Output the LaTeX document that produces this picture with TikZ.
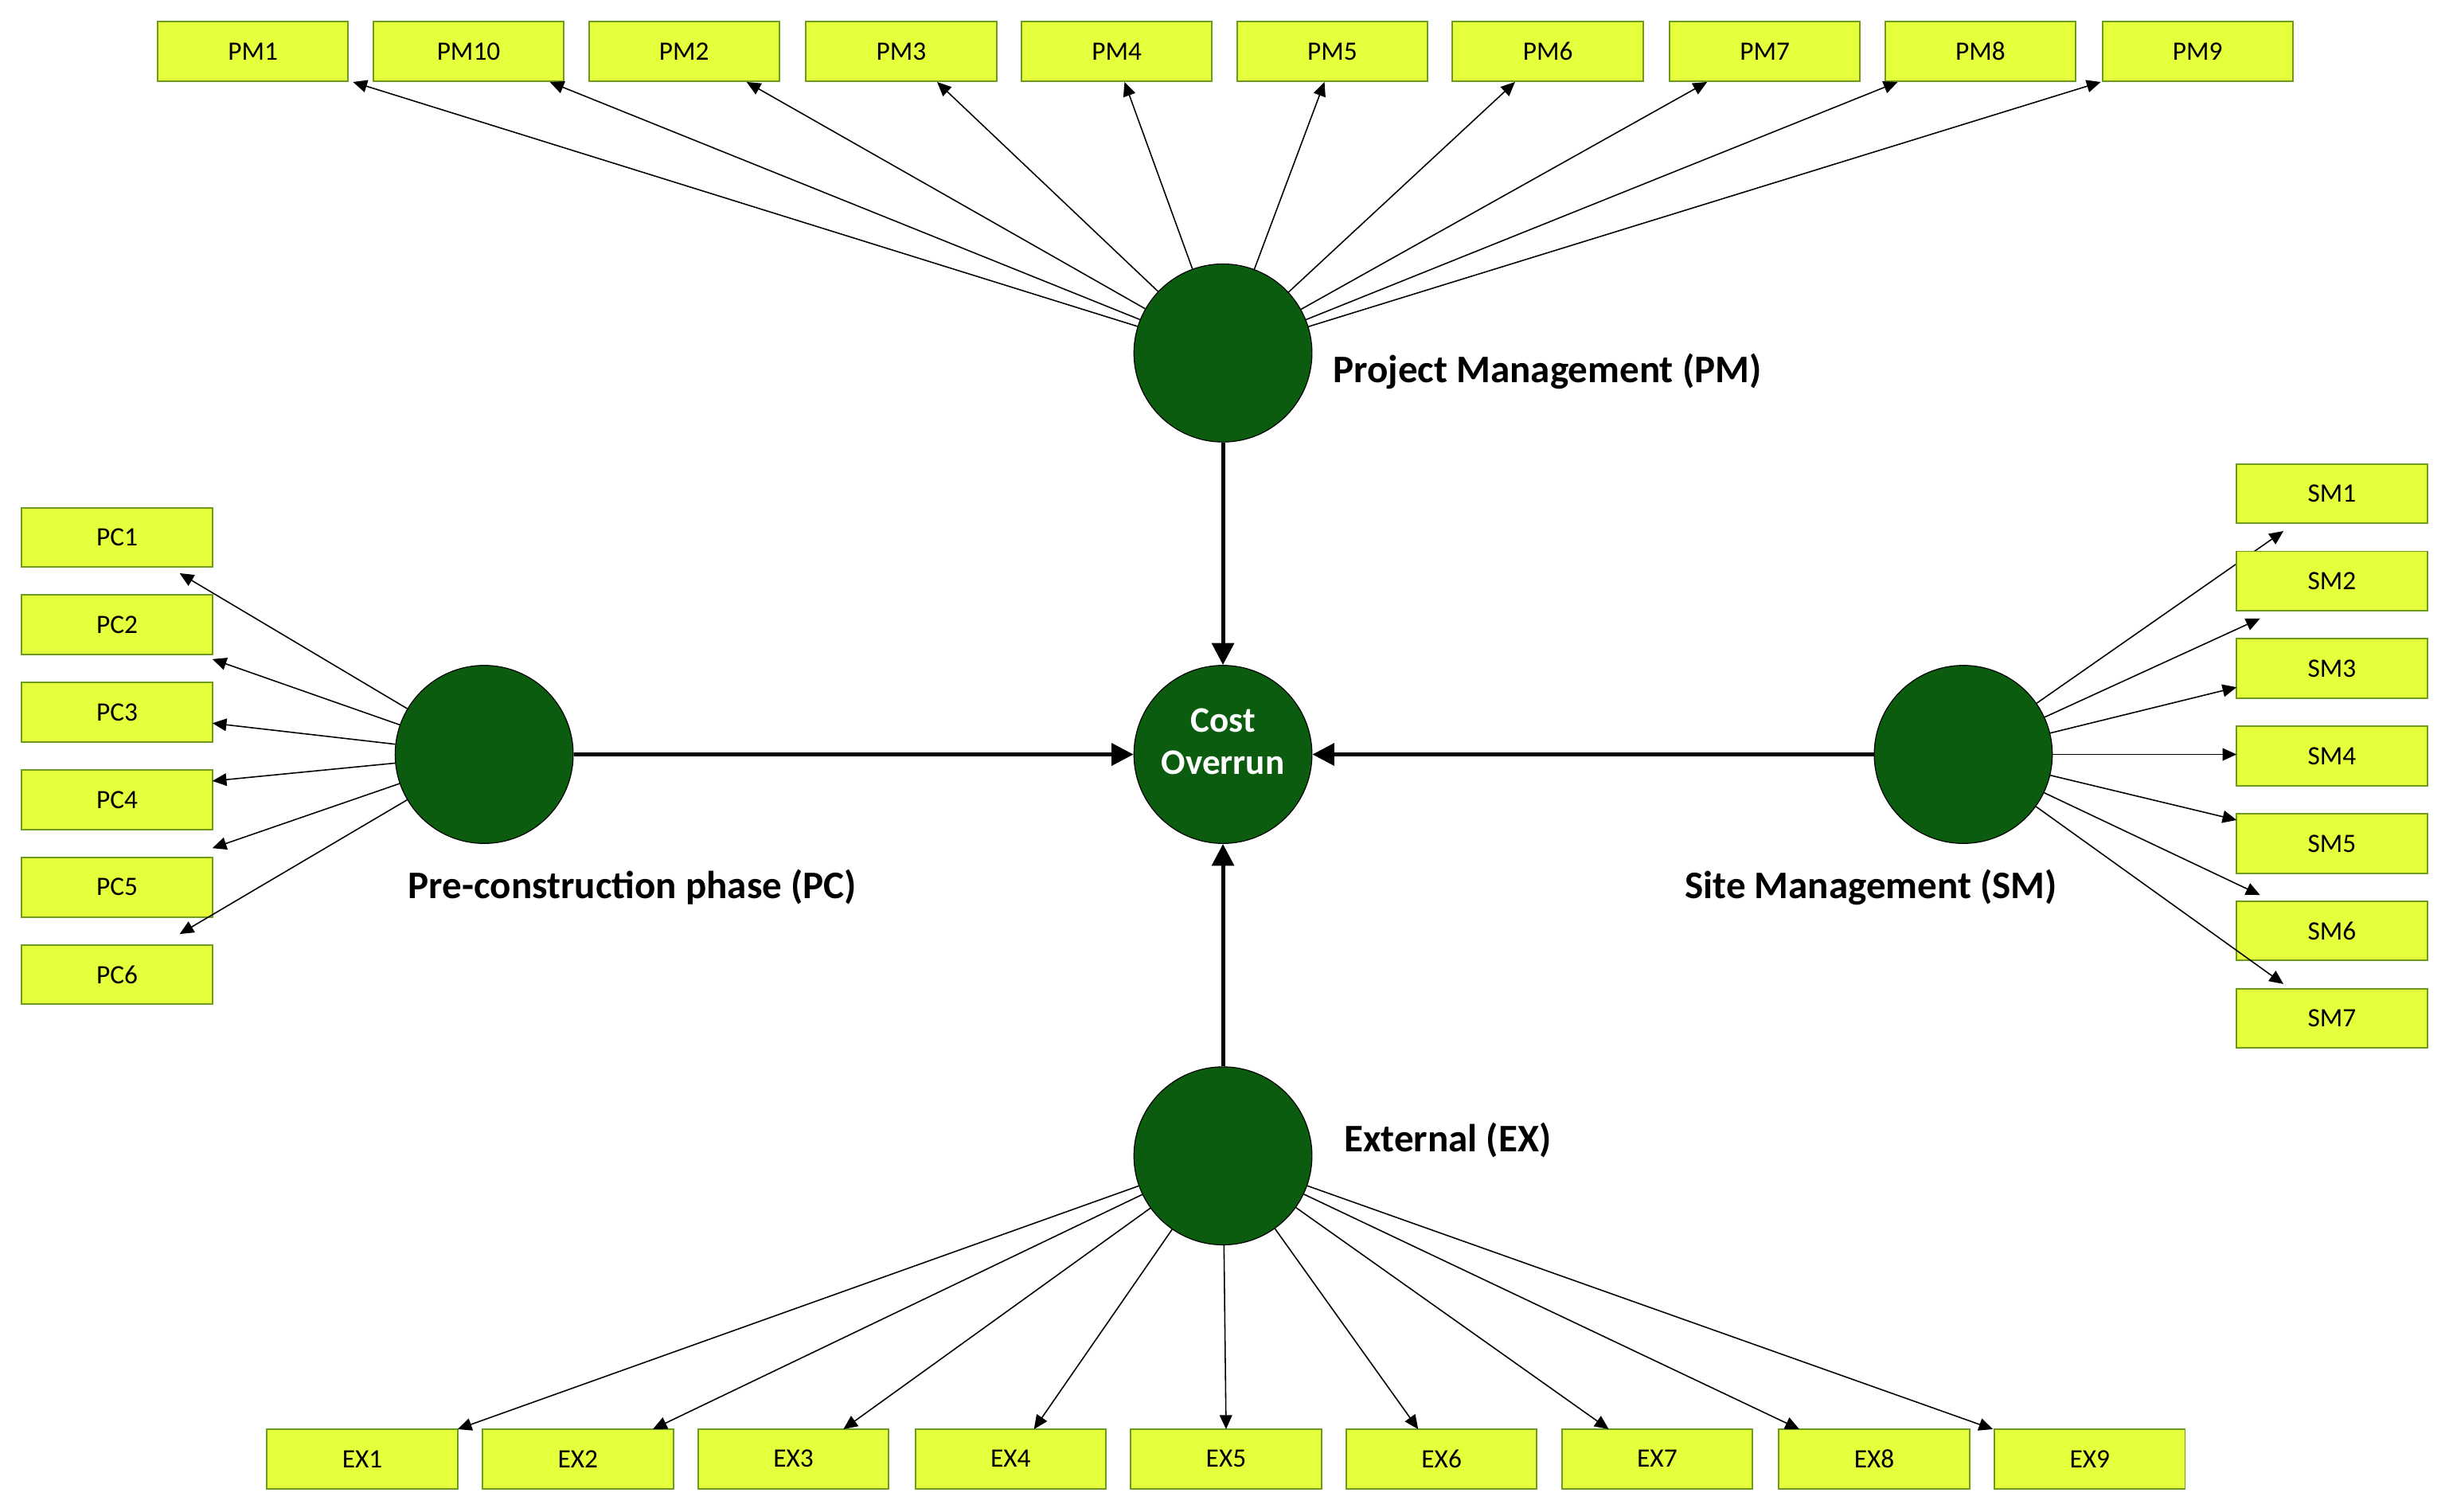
\documentclass[tikz,border=0pt]{standalone}
\usepackage{fontspec}
\setmainfont{Carlito}
\usetikzlibrary{arrows.meta}
\definecolor{boxfill}{HTML}{E6FF3C}
\definecolor{boxline}{HTML}{6E9A1E}
\definecolor{dkgreen}{HTML}{0B5C0E}
\begin{document}
\begin{tikzpicture}[x=1pt,y=-1pt,
  box/.style={draw=boxline,fill=boxfill,line width=1pt,minimum width=122pt,minimum height=38pt,inner sep=0pt,font=\fontsize{17}{17}\selectfont},
  lv/.style={circle,fill=dkgreen,draw=black,line width=0.6pt,minimum size=114pt,inner sep=0pt},
  ar/.style={-{Triangle[length=9pt,width=8pt]},line width=0.8pt},
  big/.style={-{Triangle[length=14pt,width=14pt]},line width=2.5pt},
  lab/.style={font=\bfseries\fontsize{25}{25}\selectfont}]
\useasboundingbox (0,0) rectangle (1568,968);
\node[lv] (pm) at (783,226) {};
\node[lv] (co) at (783,483) {};
\node[font=\bfseries\fontsize{23}{27}\selectfont,text=white,align=center] (cot) at (783,475) {Cost\\Overrun};
\node[lv] (pc) at (310,483) {};
\node[lv] (sm) at (1257,483) {};
\node[lv] (ex) at (783,740) {};
\node[lab,anchor=west] (pml) at (850,238) {Project Management (PM)};
\node[lab] (pcl) at (405,568) {Pre-construction phase (PC)};
\node[lab] (sml) at (1198,568) {Site Management (SM)};
\node[lab,anchor=west] (exl) at (857,730) {External (EX)};
% PM
\foreach \n/\x/\d in {PM1/162/64,PM10/300/52,PM2/438/40,PM3/577/23,PM4/715/5,PM5/853/-5,PM6/991/-21,PM7/1130/-37,PM8/1268/-53,PM9/1407/-62}{
  \node[box] (\n) at (\x,33) {\n};
  \coordinate (t\n) at ([xshift=\d pt]\n.south);
  \draw[ar] (pm) -- (t\n);
}
% PC
\foreach \i/\y/\ex/\ey in {1/344/115/367,2/400/136/422,3/456/136/463,4/512/136/500,5/568/136/543,6/624/115/598}{
  \node[box] (PC\i) at (75,\y) {PC\i};
  \coordinate (tPC\i) at (\ex,\ey);
  \draw[ar] (pc) -- (tPC\i);
}
% SM
\foreach \i/\y/\ex/\ey in {1/316/1462/340,2/372/1447/396,3/428/1432/440,4/484/1432/483,5/540/1432/525,6/596/1447/573,7/652/1462/630}{
  \node[box] (SM\i) at (1493,\y) {SM\i};
  \coordinate (tSM\i) at (\ex,\ey);
  \draw[ar] (sm) -- (tSM\i);
}
% EX
\foreach \i/\x/\ex in {1/232/293,2/370/418,3/508/540,4/647/662,5/785/785,6/923/908,7/1061/1030,8/1200/1152,9/1338/1276}{
  \node[box] (EX\i) at (\x,934) {EX\i};
  \coordinate (tEX\i) at (\ex,915);
  \draw[ar] (ex) -- (tEX\i);
}
\draw[big] (pm) -- (co);
\draw[big] (ex) -- (co);
\draw[big] (pc) -- (co);
\draw[big] (sm) -- (co);
\end{tikzpicture}
\end{document}
